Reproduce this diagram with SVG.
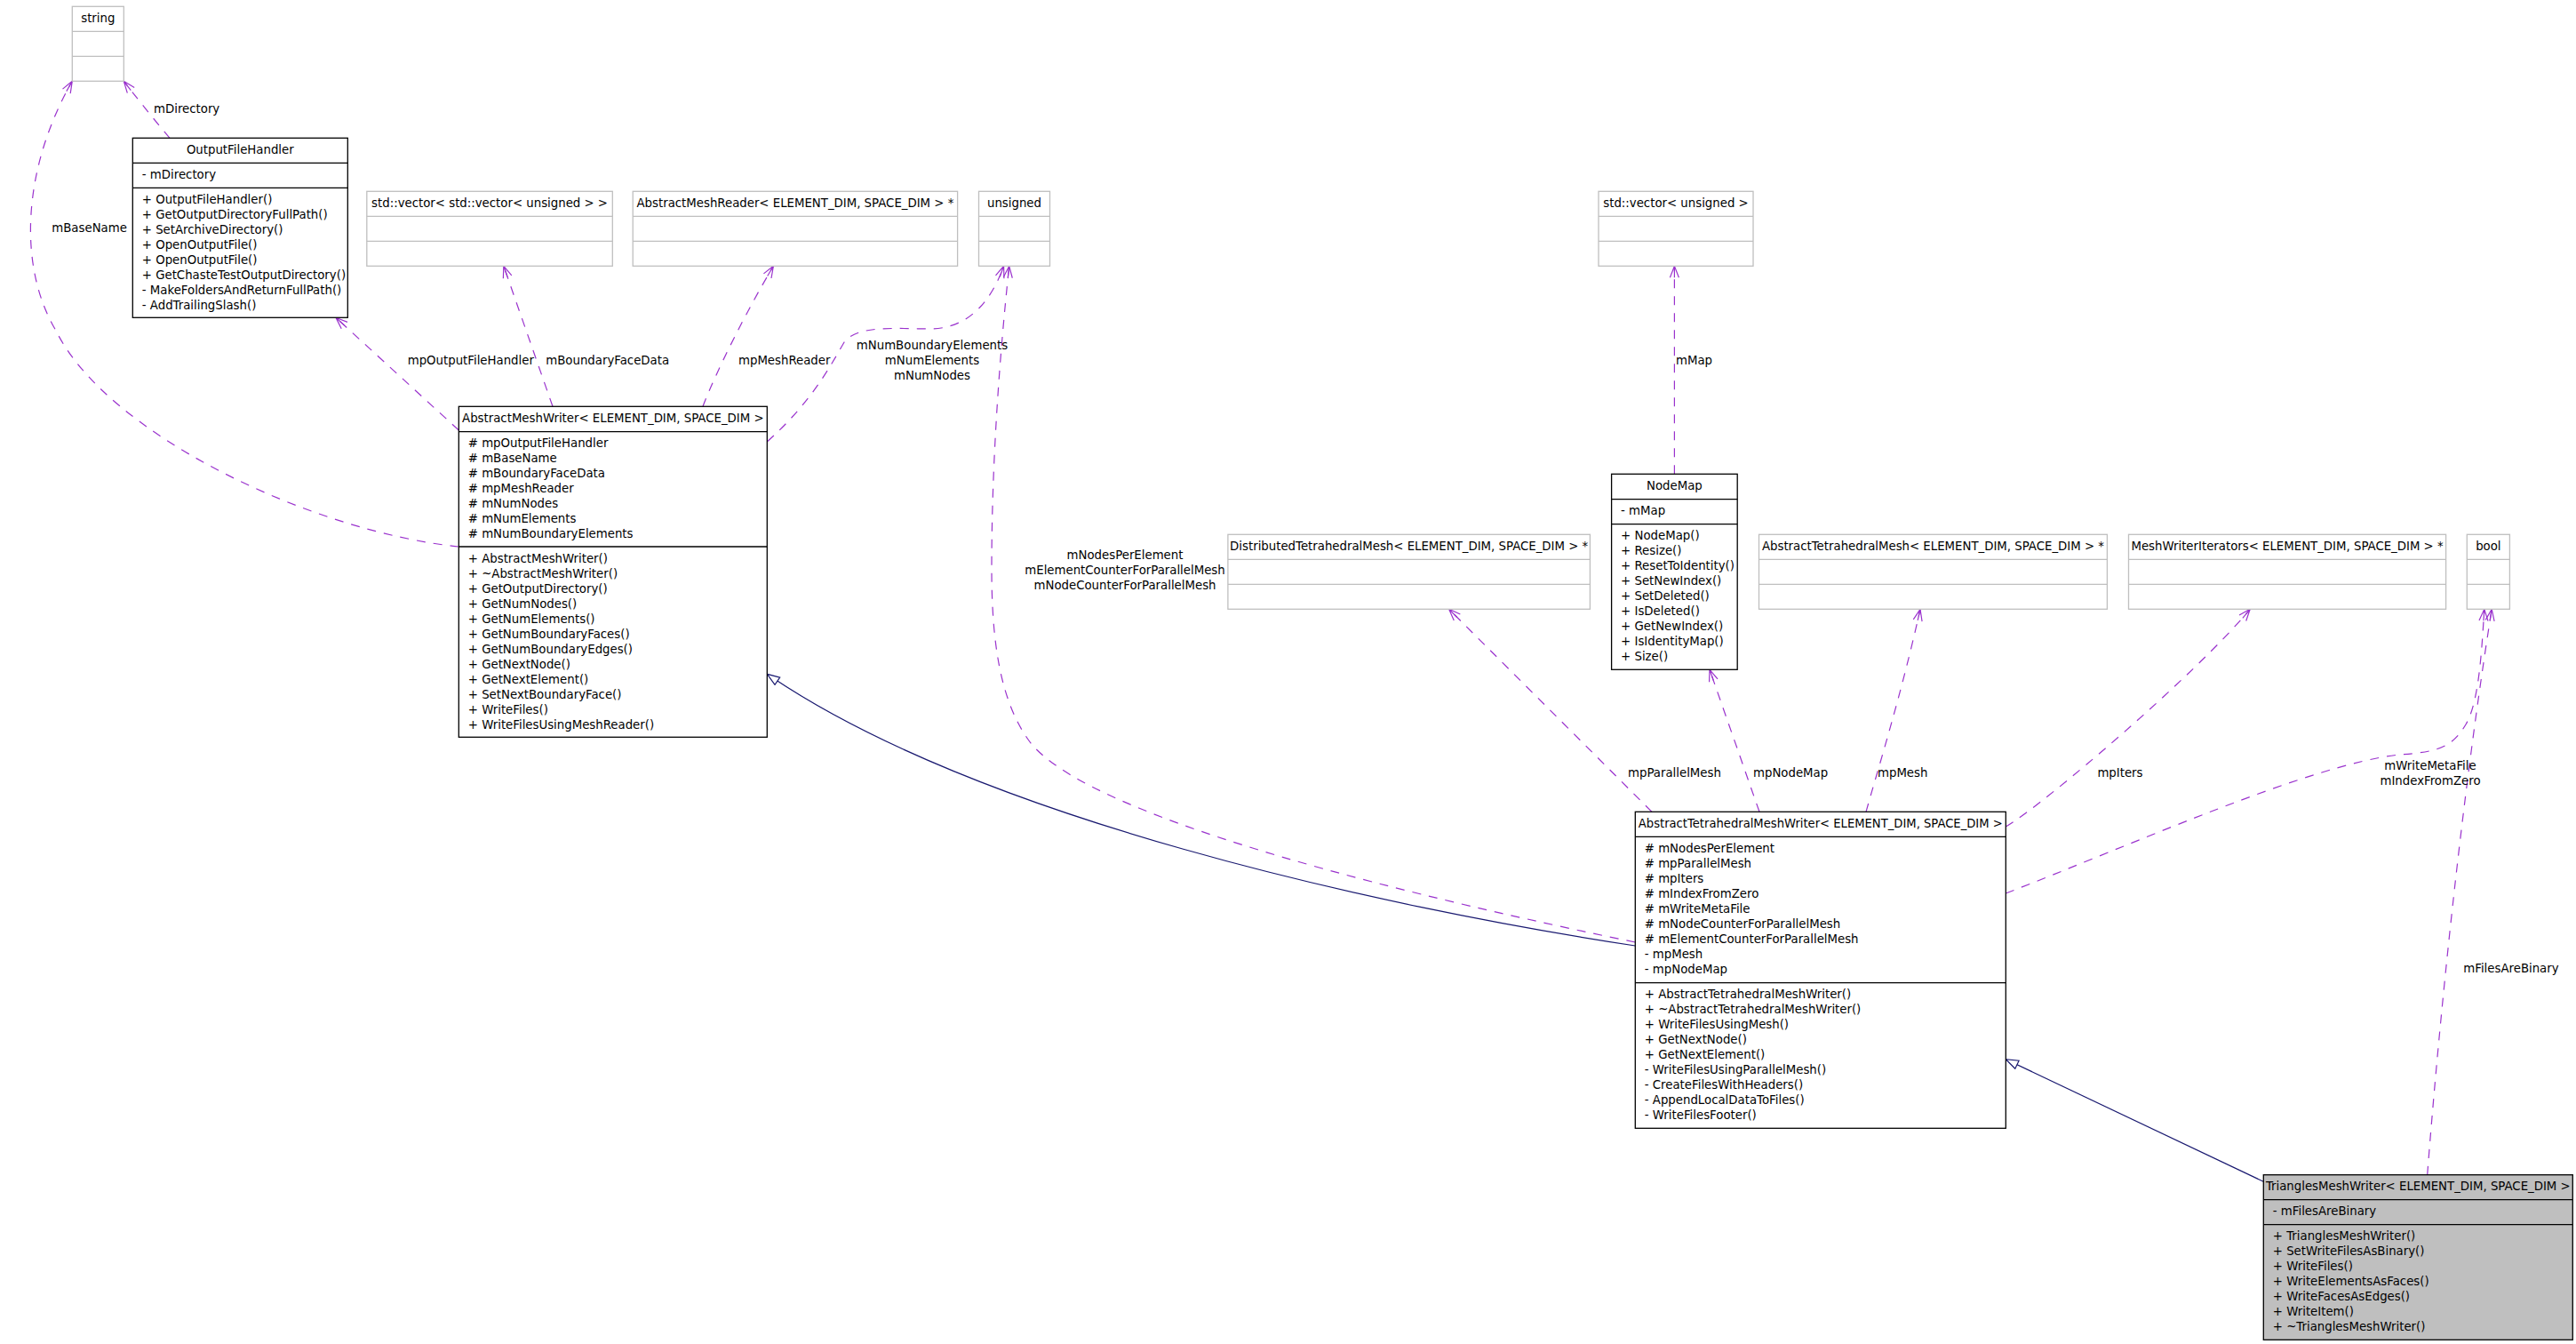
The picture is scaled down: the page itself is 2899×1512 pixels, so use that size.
<svg xmlns="http://www.w3.org/2000/svg" width="2899" height="1512" viewBox="0 0 2899 1512">
<style>
.t{font-family:"DejaVu Sans","Liberation Sans",sans-serif;font-size:13.3px;fill:#000}
.c{text-anchor:middle}
.box{fill:#fff;stroke:#000;stroke-width:1.3}
.gbox{fill:#bfbfbf;stroke:#000;stroke-width:1.3}
.ebox{fill:#fff;stroke:#bfbfbf;stroke-width:1.3}
.dv{stroke:#000;stroke-width:1.3}
.edv{stroke:#bfbfbf;stroke-width:1.3}
.dash{fill:none;stroke:#9a32cd;stroke-width:1.2;stroke-dasharray:10,9;marker-end:url(#vee)}
.inh{fill:none;stroke:#191970;stroke-width:1.2;marker-end:url(#tri)}
</style>
<defs>
<marker id="vee" markerUnits="userSpaceOnUse" markerWidth="16" markerHeight="14" refX="14" refY="7" orient="auto">
<path d="M1,2 L14,7 L1,12 M1,7 L14,7" fill="none" stroke="#9a32cd" stroke-width="1.2" stroke-dasharray="none"/>
</marker>
<marker id="tri" markerUnits="userSpaceOnUse" markerWidth="18" markerHeight="14" refX="15" refY="6" orient="auto">
<path d="M1,1 L15,6 L1,11 Z" fill="#fff" stroke="#191970" stroke-width="1.2"/>
</marker>
</defs>
<rect width="2899" height="1512" fill="#fff"/>

<g id="connectors">
<path class="dash" d="M191,155.3 C178,140 160,118 139.3,91.3"/>
<path class="dash" d="M516.3,615 C350,598 120,488 63,372 C20,300 25,190 81.3,91.3"/>
<path class="dash" d="M516.3,484 L378,357.3"/>
<path class="dash" d="M622,457.3 L566.8,299.3"/>
<path class="dash" d="M791,457.3 C805,420 840,350 870.4,299.3"/>
<path class="dash" d="M863.3,497 C910,455 930,420 950,385 C965,365 1010,370 1050,370 C1090,368 1115,340 1129.6,299.3"/>
<path class="dash" d="M1840.3,1060 C1500,990 1220,910 1160,836 C1125,790 1116,720 1116,640 C1116,520 1125,400 1135.7,299.3"/>
<path class="dash" d="M1884.4,533.3 L1884.4,299.3"/>
<path class="dash" d="M1859,913.3 L1630.6,685.3"/>
<path class="dash" d="M1980,913.3 L1924,753.3"/>
<path class="dash" d="M2100,913.3 C2115,860 2140,780 2161,685.3"/>
<path class="dash" d="M2257.3,930 C2300,905 2470,760 2532.2,685.3"/>
<path class="dash" d="M2257.3,1005 C2400,950 2600,860 2700,849 C2745,846 2760,840 2775,815 C2790,790 2793,730 2795.8,685.3"/>
<path class="dash" d="M2731.7,1321.7 C2745,1150 2770,900 2804.2,685.3"/>
<path class="inh" d="M1840.3,1064 C1550,1020 1100,920 863.3,758.3"/>
<path class="inh" d="M2547.3,1329.3 L2257.3,1191.7"/>
<g class="t">
<text x="173" y="126.5">mDirectory</text>
<text x="58.3" y="260.5">mBaseName</text>
<text x="458.7" y="410">mpOutputFileHandler</text>
<text x="614.3" y="410">mBoundaryFaceData</text>
<text x="831" y="410">mpMeshReader</text>
<text class="c" x="1049" y="392.7">mNumBoundaryElements</text>
<text class="c" x="1049" y="409.7">mNumElements</text>
<text class="c" x="1049" y="426.7">mNumNodes</text>
<text x="1886" y="410">mMap</text>
<text class="c" x="1266" y="629">mNodesPerElement</text>
<text class="c" x="1266" y="646">mElementCounterForParallelMesh</text>
<text class="c" x="1266" y="663">mNodeCounterForParallelMesh</text>
<text x="1832" y="874">mpParallelMesh</text>
<text x="1973" y="874">mpNodeMap</text>
<text x="2113" y="874">mpMesh</text>
<text x="2360.4" y="874">mpIters</text>
<text class="c" x="2735" y="865.7">mWriteMetaFile</text>
<text class="c" x="2735" y="882.7">mIndexFromZero</text>
<text x="2772.3" y="1094">mFilesAreBinary</text>
</g>
</g>

<g id="string" transform="translate(81.3,7.3)">
<rect class="ebox" width="58" height="84"/>
<line class="edv" x1="0" y1="28" x2="58" y2="28"/><line class="edv" x1="0" y1="56" x2="58" y2="56"/>
<text class="t c" x="29" y="17.6">string</text>
</g>

<g id="OutputFileHandler" transform="translate(149.3,155.3)">
<rect class="box" width="242" height="202"/>
<line class="dv" x1="0" y1="28" x2="242" y2="28"/><line class="dv" x1="0" y1="56" x2="242" y2="56"/>
<text class="t c" x="121" y="17.6">OutputFileHandler</text>
<g class="t">
<text x="10.5" y="45.6">- mDirectory</text>
<text x="10.5" y="73.6">+ OutputFileHandler()</text>
<text x="10.5" y="90.6">+ GetOutputDirectoryFullPath()</text>
<text x="10.5" y="107.6">+ SetArchiveDirectory()</text>
<text x="10.5" y="124.6">+ OpenOutputFile()</text>
<text x="10.5" y="141.6">+ OpenOutputFile()</text>
<text x="10.5" y="158.6">+ GetChasteTestOutputDirectory()</text>
<text x="10.5" y="175.6">- MakeFoldersAndReturnFullPath()</text>
<text x="10.5" y="192.6">- AddTrailingSlash()</text>
</g>
</g>

<g id="vector_vector_unsigned" transform="translate(412.8,215.3)">
<rect class="ebox" width="276.5" height="84"/>
<line class="edv" x1="0" y1="28" x2="276.5" y2="28"/><line class="edv" x1="0" y1="56" x2="276.5" y2="56"/>
<text class="t c" x="138.25" y="17.6">std::vector&lt; std::vector&lt; unsigned &gt; &gt;</text>
</g>

<g id="AbstractMeshReader" transform="translate(712.2,215.3)">
<rect class="ebox" width="365.4" height="84"/>
<line class="edv" x1="0" y1="28" x2="365.4" y2="28"/><line class="edv" x1="0" y1="56" x2="365.4" y2="56"/>
<text class="t c" x="182.7" y="17.6">AbstractMeshReader&lt; ELEMENT_DIM, SPACE_DIM &gt; *</text>
</g>

<g id="unsigned" transform="translate(1101.5,215.3)">
<rect class="ebox" width="80" height="84"/>
<line class="edv" x1="0" y1="28" x2="80" y2="28"/><line class="edv" x1="0" y1="56" x2="80" y2="56"/>
<text class="t c" x="40" y="17.6">unsigned</text>
</g>

<g id="vector_unsigned" transform="translate(1799,215.3)">
<rect class="ebox" width="174" height="84"/>
<line class="edv" x1="0" y1="28" x2="174" y2="28"/><line class="edv" x1="0" y1="56" x2="174" y2="56"/>
<text class="t c" x="87" y="17.6">std::vector&lt; unsigned &gt;</text>
</g>

<g id="AbstractMeshWriter" transform="translate(516.3,457.3)">
<rect class="box" width="347" height="372"/>
<line class="dv" x1="0" y1="28.4" x2="347" y2="28.4"/><line class="dv" x1="0" y1="157.7" x2="347" y2="157.7"/>
<text class="t c" x="173.5" y="17.6">AbstractMeshWriter&lt; ELEMENT_DIM, SPACE_DIM &gt;</text>
<g class="t">
<text x="10.5" y="46"># mpOutputFileHandler</text>
<text x="10.5" y="63"># mBaseName</text>
<text x="10.5" y="80"># mBoundaryFaceData</text>
<text x="10.5" y="97"># mpMeshReader</text>
<text x="10.5" y="114"># mNumNodes</text>
<text x="10.5" y="131"># mNumElements</text>
<text x="10.5" y="148"># mNumBoundaryElements</text>
<text x="10.5" y="175.3">+ AbstractMeshWriter()</text>
<text x="10.5" y="192.3">+ ~AbstractMeshWriter()</text>
<text x="10.5" y="209.3">+ GetOutputDirectory()</text>
<text x="10.5" y="226.3">+ GetNumNodes()</text>
<text x="10.5" y="243.3">+ GetNumElements()</text>
<text x="10.5" y="260.3">+ GetNumBoundaryFaces()</text>
<text x="10.5" y="277.3">+ GetNumBoundaryEdges()</text>
<text x="10.5" y="294.3">+ GetNextNode()</text>
<text x="10.5" y="311.3">+ GetNextElement()</text>
<text x="10.5" y="328.3">+ SetNextBoundaryFace()</text>
<text x="10.5" y="345.3">+ WriteFiles()</text>
<text x="10.5" y="362.3">+ WriteFilesUsingMeshReader()</text>
</g>
</g>

<g id="NodeMap" transform="translate(1813.6,533.3)">
<rect class="box" width="141.6" height="220"/>
<line class="dv" x1="0" y1="28.4" x2="141.6" y2="28.4"/><line class="dv" x1="0" y1="56.4" x2="141.6" y2="56.4"/>
<text class="t c" x="70.8" y="17.6">NodeMap</text>
<g class="t">
<text x="10.5" y="46">- mMap</text>
<text x="10.5" y="74">+ NodeMap()</text>
<text x="10.5" y="91">+ Resize()</text>
<text x="10.5" y="108">+ ResetToIdentity()</text>
<text x="10.5" y="125">+ SetNewIndex()</text>
<text x="10.5" y="142">+ SetDeleted()</text>
<text x="10.5" y="159">+ IsDeleted()</text>
<text x="10.5" y="176">+ GetNewIndex()</text>
<text x="10.5" y="193">+ IsIdentityMap()</text>
<text x="10.5" y="210">+ Size()</text>
</g>
</g>

<g id="DistributedTetrahedralMesh" transform="translate(1381.9,601.3)">
<rect class="ebox" width="407.5" height="84"/>
<line class="edv" x1="0" y1="28" x2="407.5" y2="28"/><line class="edv" x1="0" y1="56" x2="407.5" y2="56"/>
<text class="t c" x="203.75" y="17.6">DistributedTetrahedralMesh&lt; ELEMENT_DIM, SPACE_DIM &gt; *</text>
</g>

<g id="AbstractTetrahedralMesh" transform="translate(1979.5,601.3)">
<rect class="ebox" width="391.9" height="84"/>
<line class="edv" x1="0" y1="28" x2="391.9" y2="28"/><line class="edv" x1="0" y1="56" x2="391.9" y2="56"/>
<text class="t c" x="195.95" y="17.6">AbstractTetrahedralMesh&lt; ELEMENT_DIM, SPACE_DIM &gt; *</text>
</g>

<g id="MeshWriterIterators" transform="translate(2395.5,601.3)">
<rect class="ebox" width="357.1" height="84"/>
<line class="edv" x1="0" y1="28" x2="357.1" y2="28"/><line class="edv" x1="0" y1="56" x2="357.1" y2="56"/>
<text class="t c" x="178.55" y="17.6">MeshWriterIterators&lt; ELEMENT_DIM, SPACE_DIM &gt; *</text>
</g>

<g id="bool" transform="translate(2776.3,601.3)">
<rect class="ebox" width="48.1" height="84"/>
<line class="edv" x1="0" y1="28" x2="48.1" y2="28"/><line class="edv" x1="0" y1="56" x2="48.1" y2="56"/>
<text class="t c" x="24.05" y="17.6">bool</text>
</g>

<g id="AbstractTetrahedralMeshWriter" transform="translate(1840.3,913.3)">
<rect class="box" width="417" height="356"/>
<line class="dv" x1="0" y1="28" x2="417" y2="28"/><line class="dv" x1="0" y1="192.4" x2="417" y2="192.4"/>
<text class="t c" x="208.5" y="17.6" textLength="410" lengthAdjust="spacingAndGlyphs">AbstractTetrahedralMeshWriter&lt; ELEMENT_DIM, SPACE_DIM &gt;</text>
<g class="t">
<text x="10.5" y="45.6"># mNodesPerElement</text>
<text x="10.5" y="62.6"># mpParallelMesh</text>
<text x="10.5" y="79.6"># mpIters</text>
<text x="10.5" y="96.6"># mIndexFromZero</text>
<text x="10.5" y="113.6"># mWriteMetaFile</text>
<text x="10.5" y="130.6"># mNodeCounterForParallelMesh</text>
<text x="10.5" y="147.6"># mElementCounterForParallelMesh</text>
<text x="10.5" y="164.6">- mpMesh</text>
<text x="10.5" y="181.6">- mpNodeMap</text>
<text x="10.5" y="210">+ AbstractTetrahedralMeshWriter()</text>
<text x="10.5" y="227">+ ~AbstractTetrahedralMeshWriter()</text>
<text x="10.5" y="244">+ WriteFilesUsingMesh()</text>
<text x="10.5" y="261">+ GetNextNode()</text>
<text x="10.5" y="278">+ GetNextElement()</text>
<text x="10.5" y="295">- WriteFilesUsingParallelMesh()</text>
<text x="10.5" y="312">- CreateFilesWithHeaders()</text>
<text x="10.5" y="329">- AppendLocalDataToFiles()</text>
<text x="10.5" y="346">- WriteFilesFooter()</text>
</g>
</g>

<g id="TrianglesMeshWriter" transform="translate(2547.3,1321.7)">
<rect class="gbox" width="348" height="185.6"/>
<line class="dv" x1="0" y1="28" x2="348" y2="28"/><line class="dv" x1="0" y1="56" x2="348" y2="56"/>
<text class="t c" x="174" y="17.6">TrianglesMeshWriter&lt; ELEMENT_DIM, SPACE_DIM &gt;</text>
<g class="t">
<text x="10.5" y="45.6">- mFilesAreBinary</text>
<text x="10.5" y="73.6">+ TrianglesMeshWriter()</text>
<text x="10.5" y="90.6">+ SetWriteFilesAsBinary()</text>
<text x="10.5" y="107.6">+ WriteFiles()</text>
<text x="10.5" y="124.6">+ WriteElementsAsFaces()</text>
<text x="10.5" y="141.6">+ WriteFacesAsEdges()</text>
<text x="10.5" y="158.6">+ WriteItem()</text>
<text x="10.5" y="175.6">+ ~TrianglesMeshWriter()</text>
</g>
</g>

</svg>
